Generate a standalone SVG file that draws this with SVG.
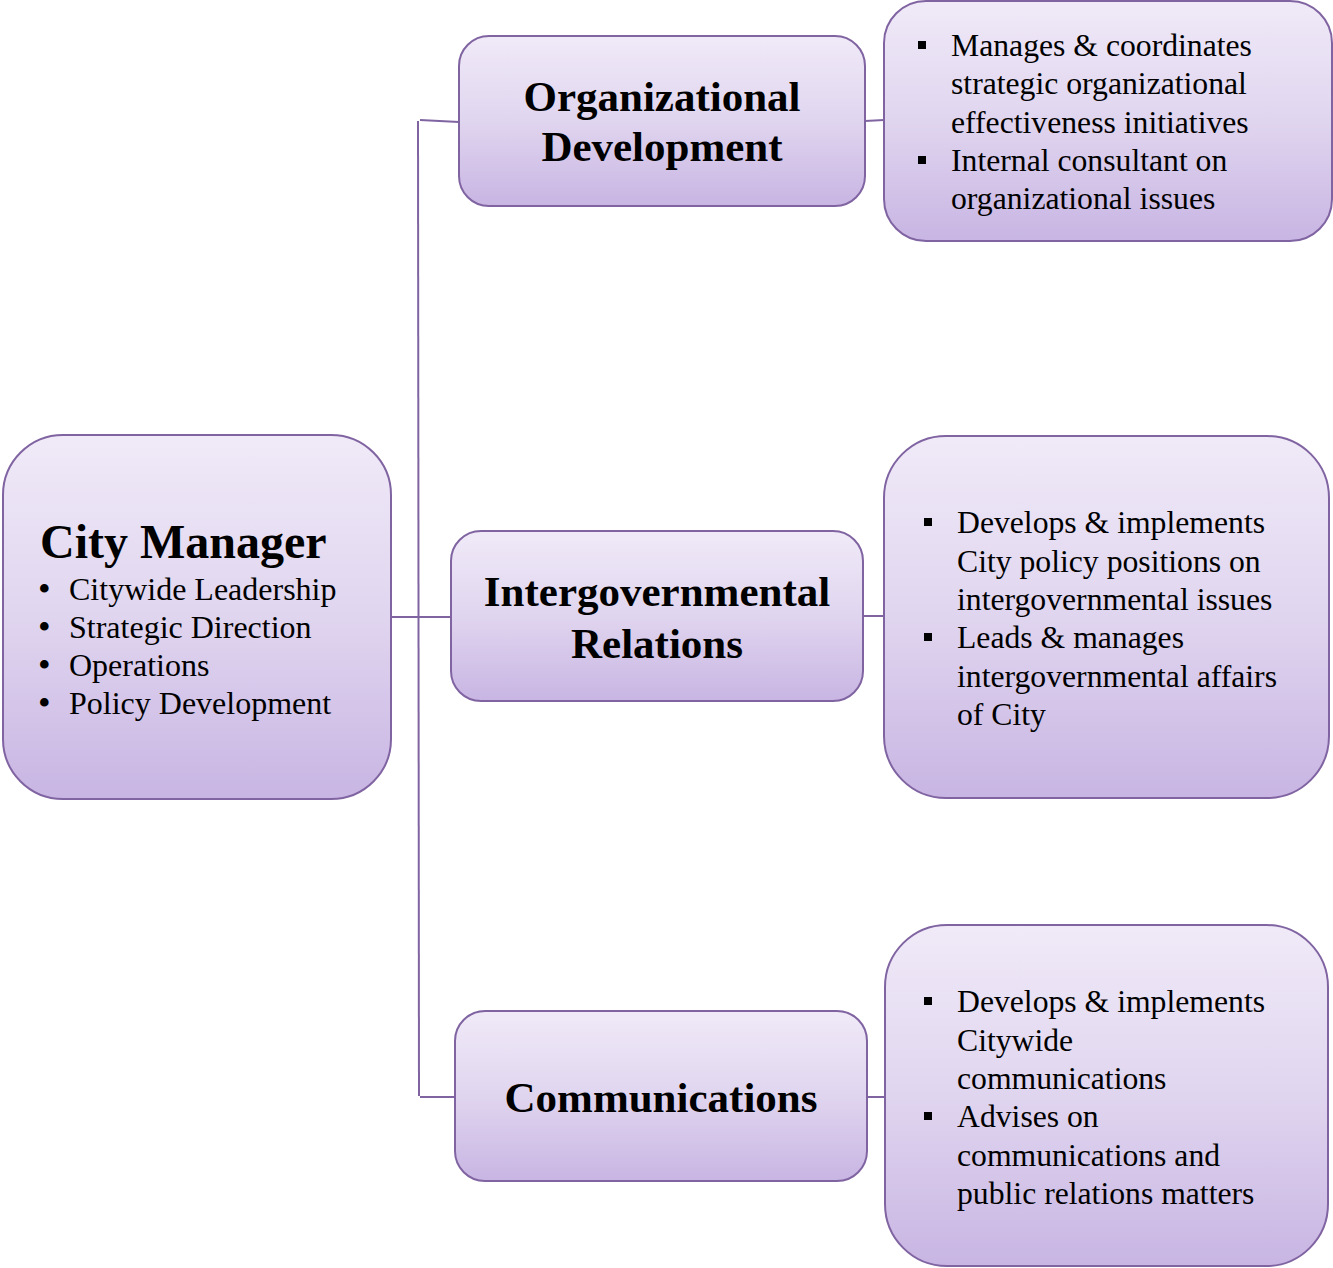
<svg xmlns="http://www.w3.org/2000/svg" width="1333" height="1268" viewBox="0 0 1333 1268">
<defs>
<linearGradient id="g" x1="0" y1="0" x2="0" y2="1">
<stop offset="0" stop-color="#f0eaf8"/>
<stop offset="0.5" stop-color="#e0d5ef"/>
<stop offset="1" stop-color="#c8b5e3"/>
</linearGradient>
<style>
.box{fill:url(#g);stroke:#8064a2;stroke-width:2}
.ln{stroke:#8064a2;stroke-width:2;fill:none}
.t{font-family:"Liberation Serif","Times New Roman",serif;fill:#000}
.h{font-weight:bold;font-size:43px;text-anchor:middle}
.cm{font-weight:bold;font-size:48px}
.b{font-size:31.7px}
.c{font-size:32px}
.bl{font-size:36px}
</style>
</defs>
<rect width="1333" height="1268" fill="#fff"/>
<g id="connectors">
<path class="ln" d="M418,121 L419,1096"/>
<path class="ln" d="M420,120 L459,122"/>
<path class="ln" d="M391,617 L451,617"/>
<path class="ln" d="M420,1097 L455,1097"/>
<path class="ln" d="M865,121 L884,120"/>
<path class="ln" d="M863,616 L884,616"/>
<path class="ln" d="M867,1097 L885,1097"/>
</g>
<g id="city-manager">
<rect class="box" x="3" y="435" width="388" height="364" rx="60"/>
<text class="t cm" x="40" y="558">City Manager</text>
<g class="t">
<text class="bl" x="38" y="601">•</text><text class="c" x="69" y="600">Citywide Leadership</text>
<text class="bl" x="38" y="639">•</text><text class="c" x="69" y="638">Strategic Direction</text>
<text class="bl" x="38" y="677">•</text><text class="c" x="69" y="676">Operations</text>
<text class="bl" x="38" y="715">•</text><text class="c" x="69" y="714">Policy Development</text>
</g>
</g>
<g id="org-dev">
<rect class="box" x="459" y="36" width="406" height="170" rx="30"/>
<text class="t h" x="662" y="111">Organizational</text>
<text class="t h" x="662" y="161">Development</text>
</g>
<g id="org-dev-detail">
<rect class="box" x="884" y="1" width="448" height="240" rx="42"/>
<g class="t b">
<rect x="918" y="41" width="8" height="8" fill="#000"/>
<text x="951" y="56">Manages &amp; coordinates</text>
<text x="951" y="94">strategic organizational</text>
<text x="951" y="133">effectiveness initiatives</text>
<rect x="918" y="156" width="8" height="8" fill="#000"/>
<text x="951" y="171">Internal consultant on</text>
<text x="951" y="209">organizational issues</text>
</g>
</g>
<g id="intergov">
<rect class="box" x="451" y="531" width="412" height="170" rx="30"/>
<text class="t h" x="657" y="606">Intergovernmental</text>
<text class="t h" x="657" y="658">Relations</text>
</g>
<g id="intergov-detail">
<rect class="box" x="884" y="436" width="445" height="362" rx="62"/>
<g class="t b">
<rect x="924" y="518" width="8" height="8" fill="#000"/>
<text x="957" y="533">Develops &amp; implements</text>
<text x="957" y="572">City policy positions on</text>
<text x="957" y="610">intergovernmental issues</text>
<rect x="924" y="633" width="8" height="8" fill="#000"/>
<text x="957" y="648">Leads &amp; manages</text>
<text x="957" y="687">intergovernmental affairs</text>
<text x="957" y="725">of City</text>
</g>
</g>
<g id="communications">
<rect class="box" x="455" y="1011" width="412" height="170" rx="30"/>
<text class="t h" x="661" y="1112">Communications</text>
</g>
<g id="communications-detail">
<rect class="box" x="885" y="925" width="443" height="341" rx="62"/>
<g class="t b">
<rect x="924" y="997" width="8" height="8" fill="#000"/>
<text x="957" y="1012">Develops &amp; implements</text>
<text x="957" y="1051">Citywide</text>
<text x="957" y="1089">communications</text>
<rect x="924" y="1112" width="8" height="8" fill="#000"/>
<text x="957" y="1127">Advises on</text>
<text x="957" y="1166">communications and</text>
<text x="957" y="1204">public relations matters</text>
</g>
</g>
</svg>
